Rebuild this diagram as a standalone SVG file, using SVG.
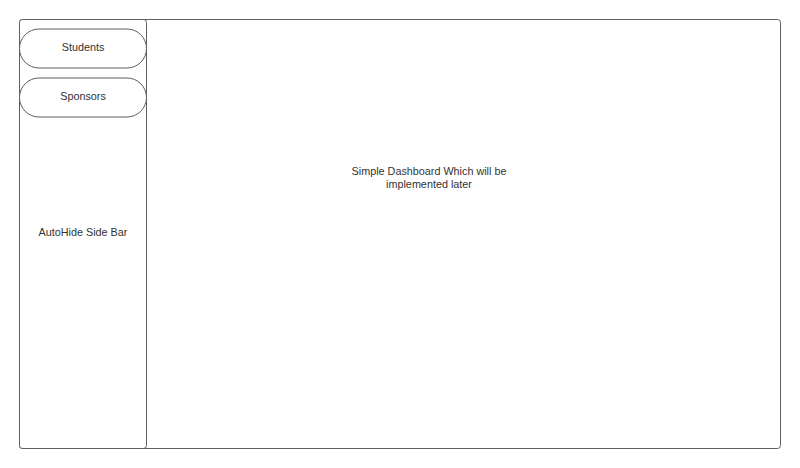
<svg xmlns="http://www.w3.org/2000/svg" width="800" height="468" viewBox="0 0 800 468">
<style>
.box{fill:#ffffff;stroke:#5e5e5e;stroke-width:1}
.t{font-family:"Liberation Sans",Arial,sans-serif;font-size:10.8px;fill:#333333;text-anchor:middle}
</style>
<rect width="800" height="468" fill="#ffffff"/>
<g id="dashboard">
<rect class="box" x="19.5" y="19.5" width="761" height="429" rx="3"/>
<text class="t" x="429" y="175">Simple Dashboard Which will be</text>
<text class="t" x="429" y="188">implemented later</text>
</g>
<g id="sidebar">
<rect class="box" x="19.5" y="19.5" width="127" height="429" rx="3"/>
<text class="t" x="83" y="236">AutoHide Side Bar</text>
</g>
<g id="students">
<rect class="box" x="19.5" y="29" width="127" height="39" rx="19.5"/>
<text class="t" x="83" y="51">Students</text>
</g>
<g id="sponsors">
<rect class="box" x="19.5" y="78" width="127" height="39" rx="19.5"/>
<text class="t" x="83" y="100">Sponsors</text>
</g>
<g id="connectors"></g>
</svg>
